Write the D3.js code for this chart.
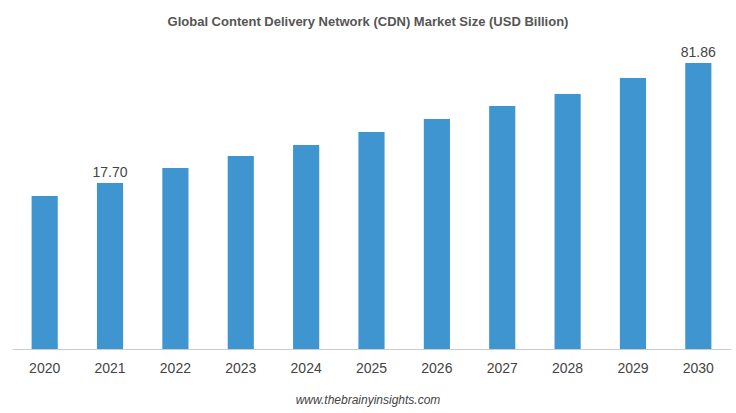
<!DOCTYPE html>
<html><head><meta charset="utf-8">
<script src="https://cdn.jsdelivr.net/npm/d3@7"></script>
<style>body{margin:0;background:#fff;font-family:Arial,"Liberation Sans",sans-serif}</style>
</head><body><div id="chart"></div>
<script>
// Chart data
const years = ["2020","2021","2022","2023","2024","2025","2026","2027","2028","2029","2030"];
const values = [10.75, 17.70, 25.72, 32.14, 38.02, 44.97, 51.92, 58.87, 65.29, 73.84, 81.86];
const labelled = ["2021", "2030"];

const width = 736, height = 413;
const svg = d3.select("#chart").append("svg").attr("width", width).attr("height", height);

// Band scale for years, linear scale (value axis is not zero based in the source)
let x = d3.scaleBand().domain(years).range([12, 731]).paddingInner(0.6).paddingOuter(0.3);
let y = d3.scaleLinear().domain([-71.07, 81.86]).range([349, 63]);

svg.append("text").attr("x", width / 2).attr("y", 26).attr("text-anchor", "middle")
    .style("font-size", "13px").style("font-weight", "bold").style("fill", "#555")
    .text("Global Content Delivery Network (CDN) Market Size (USD Billion)");

svg.selectAll("rect.bar").data(years).enter().append("rect")
    .attr("class", "bar")
    .attr("x", (d) => x(d))
    .attr("y", (d, i) => y(values[i]))
    .attr("width", x.bandwidth())
    .attr("height", (d, i) => y.range()[0] - y(values[i]))
    .attr("fill", "#3f95cf");

svg.selectAll("text.val").data(years.filter((d) => labelled.includes(d))).enter().append("text")
    .attr("class", "val")
    .attr("x", (d) => x(d) + x.bandwidth() / 2)
    .attr("y", (d) => y(values[years.indexOf(d)]) - 6)
    .attr("text-anchor", "middle")
    .style("font-size", "14px").style("fill", "#444")
    .text((d) => values[years.indexOf(d)].toFixed(2));

let axis = svg.append("g").attr("transform", "translate(0,349)")
    .call(d3.axisBottom(x).tickSize(0).tickPadding(14));
axis.select(".domain").attr("stroke", "#ccc");
axis.selectAll("text").style("font-size", "14px").style("fill", "#444")
    .style("font-family", "Arial, 'Liberation Sans', sans-serif");

svg.append("text").attr("x", width / 2).attr("y", 404).attr("text-anchor", "middle")
    .style("font-size", "12px").style("font-style", "italic").style("fill", "#444")
    .text("www.thebrainyinsights.com");
</script></body></html>
